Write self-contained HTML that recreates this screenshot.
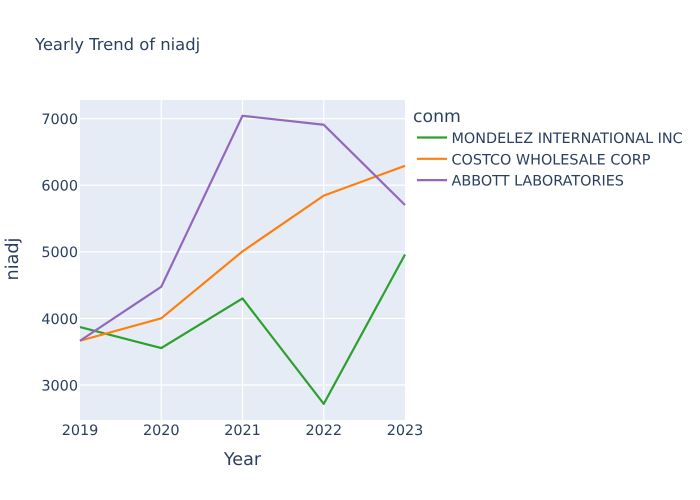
<!DOCTYPE html>
<html lang="en">
<head>
<meta charset="utf-8">
<title>Yearly Trend of niadj</title>
<style>
html,body{margin:0;padding:0;background:#fff;}
svg{display:block;}
text{font-family:"DejaVu Sans",Verdana,sans-serif;fill:#2a3f5f;text-rendering:geometricPrecision;}
</style>
</head>
<body>
<svg id="chart" width="700" height="500" viewBox="0 0 700 500">
  <rect x="0" y="0" width="700" height="500" fill="#ffffff"></rect>
  <rect x="80" y="100" width="325" height="320" fill="#E5ECF6"></rect>
  <g id="grid"></g>
  <g id="series"></g>
  <g id="xticks"></g>
  <g id="yticks"></g>
  <text x="35" y="50" font-size="16.4">Yearly Trend of niadj</text>
  <text x="242.5" y="465" font-size="17.6" text-anchor="middle">Year</text>
  <text transform="translate(18,259) rotate(-90)" font-size="17.6" text-anchor="middle">niadj</text>
  <text x="413" y="122" font-size="17.3">conm</text>
  <g id="legend"></g>
</svg>
<script>
const years = [2019, 2020, 2021, 2022, 2023];
const yTickValues = [3000, 4000, 5000, 6000, 7000];
const seriesNames = ["MONDELEZ INTERNATIONAL INC", "COSTCO WHOLESALE CORP", "ABBOTT LABORATORIES"];
const mondelezValues = [3870, 3555, 4300, 2717, 4960];
const costcoValues = [3665, 4002, 5007, 5844, 6292];
const abbottValues = [3665, 4476, 7043, 6908, 5703];

const NS = "http://www.w3.org/2000/svg";
const plot = { left: 80, right: 405, top: 100, bottom: 420 };
const xDomain = [years[0], years[years.length - 1]];
const yDomain = [2475, 7280];

function xScale(v) {
  return plot.left + (v - xDomain[0]) / (xDomain[1] - xDomain[0]) * (plot.right - plot.left);
}
function yScale(v) {
  return plot.bottom - (v - yDomain[0]) / (yDomain[1] - yDomain[0]) * (plot.bottom - plot.top);
}
function make(tag, attrs, parent) {
  const el = document.createElementNS(NS, tag);
  Object.keys(attrs).forEach(function (k) { el.setAttribute(k, attrs[k]); });
  parent.appendChild(el);
  return el;
}

const gridGroup = document.getElementById("grid");
const xTickGroup = document.getElementById("xticks");
const yTickGroup = document.getElementById("yticks");
const seriesGroup = document.getElementById("series");
const legendGroup = document.getElementById("legend");

years.forEach(function (year, i) {
  const x = xScale(year);
  if (i > 0 && i < years.length - 1) {
    const line = make("line", { x1: x, x2: x, y1: plot.top, y2: plot.bottom, stroke: "#ffffff", "stroke-width": 1.2 }, gridGroup);
    
    
  }
  const label = make("text", { x: x, y: 435, "font-size": 14.4, "text-anchor": "middle" }, xTickGroup);
  label.textContent = String(year);
  
  
});

yTickValues.forEach(function (value) {
  const y = yScale(value);
  const line = make("line", { x1: plot.left, x2: plot.right, y1: y, y2: y, stroke: "#ffffff", "stroke-width": 1.2 }, gridGroup);
  
  
  const label = make("text", { x: 78, y: y + 5.4, "font-size": 14.4, "text-anchor": "end" }, yTickGroup);
  label.textContent = String(value);
  
  
});

const seriesValues = [mondelezValues, costcoValues, abbottValues];
const seriesColors = ["#2ca02c", "#ff7f0e", "#9467bd"];

seriesValues.forEach(function (values, s) {
  const pts = values.map(function (v, i) { return xScale(years[i]) + "," + yScale(v); }).join(" ");
  const line = make("polyline", { points: pts, fill: "none", stroke: seriesColors[s], "stroke-width": 2.2, "stroke-linejoin": "round" }, seriesGroup);
  
  

  const ly = 138.5 + s * 21.3;
  const swatch = make("line", { x1: 417, x2: 447, y1: ly - 1, y2: ly - 1, stroke: seriesColors[s], "stroke-width": 2.2 }, legendGroup);
  
  
  const text = make("text", { x: 451.5, y: ly + 4.5, "font-size": 14.4 }, legendGroup);
  text.textContent = seriesNames[s];
  
  
});
</script>
</body>
</html>
